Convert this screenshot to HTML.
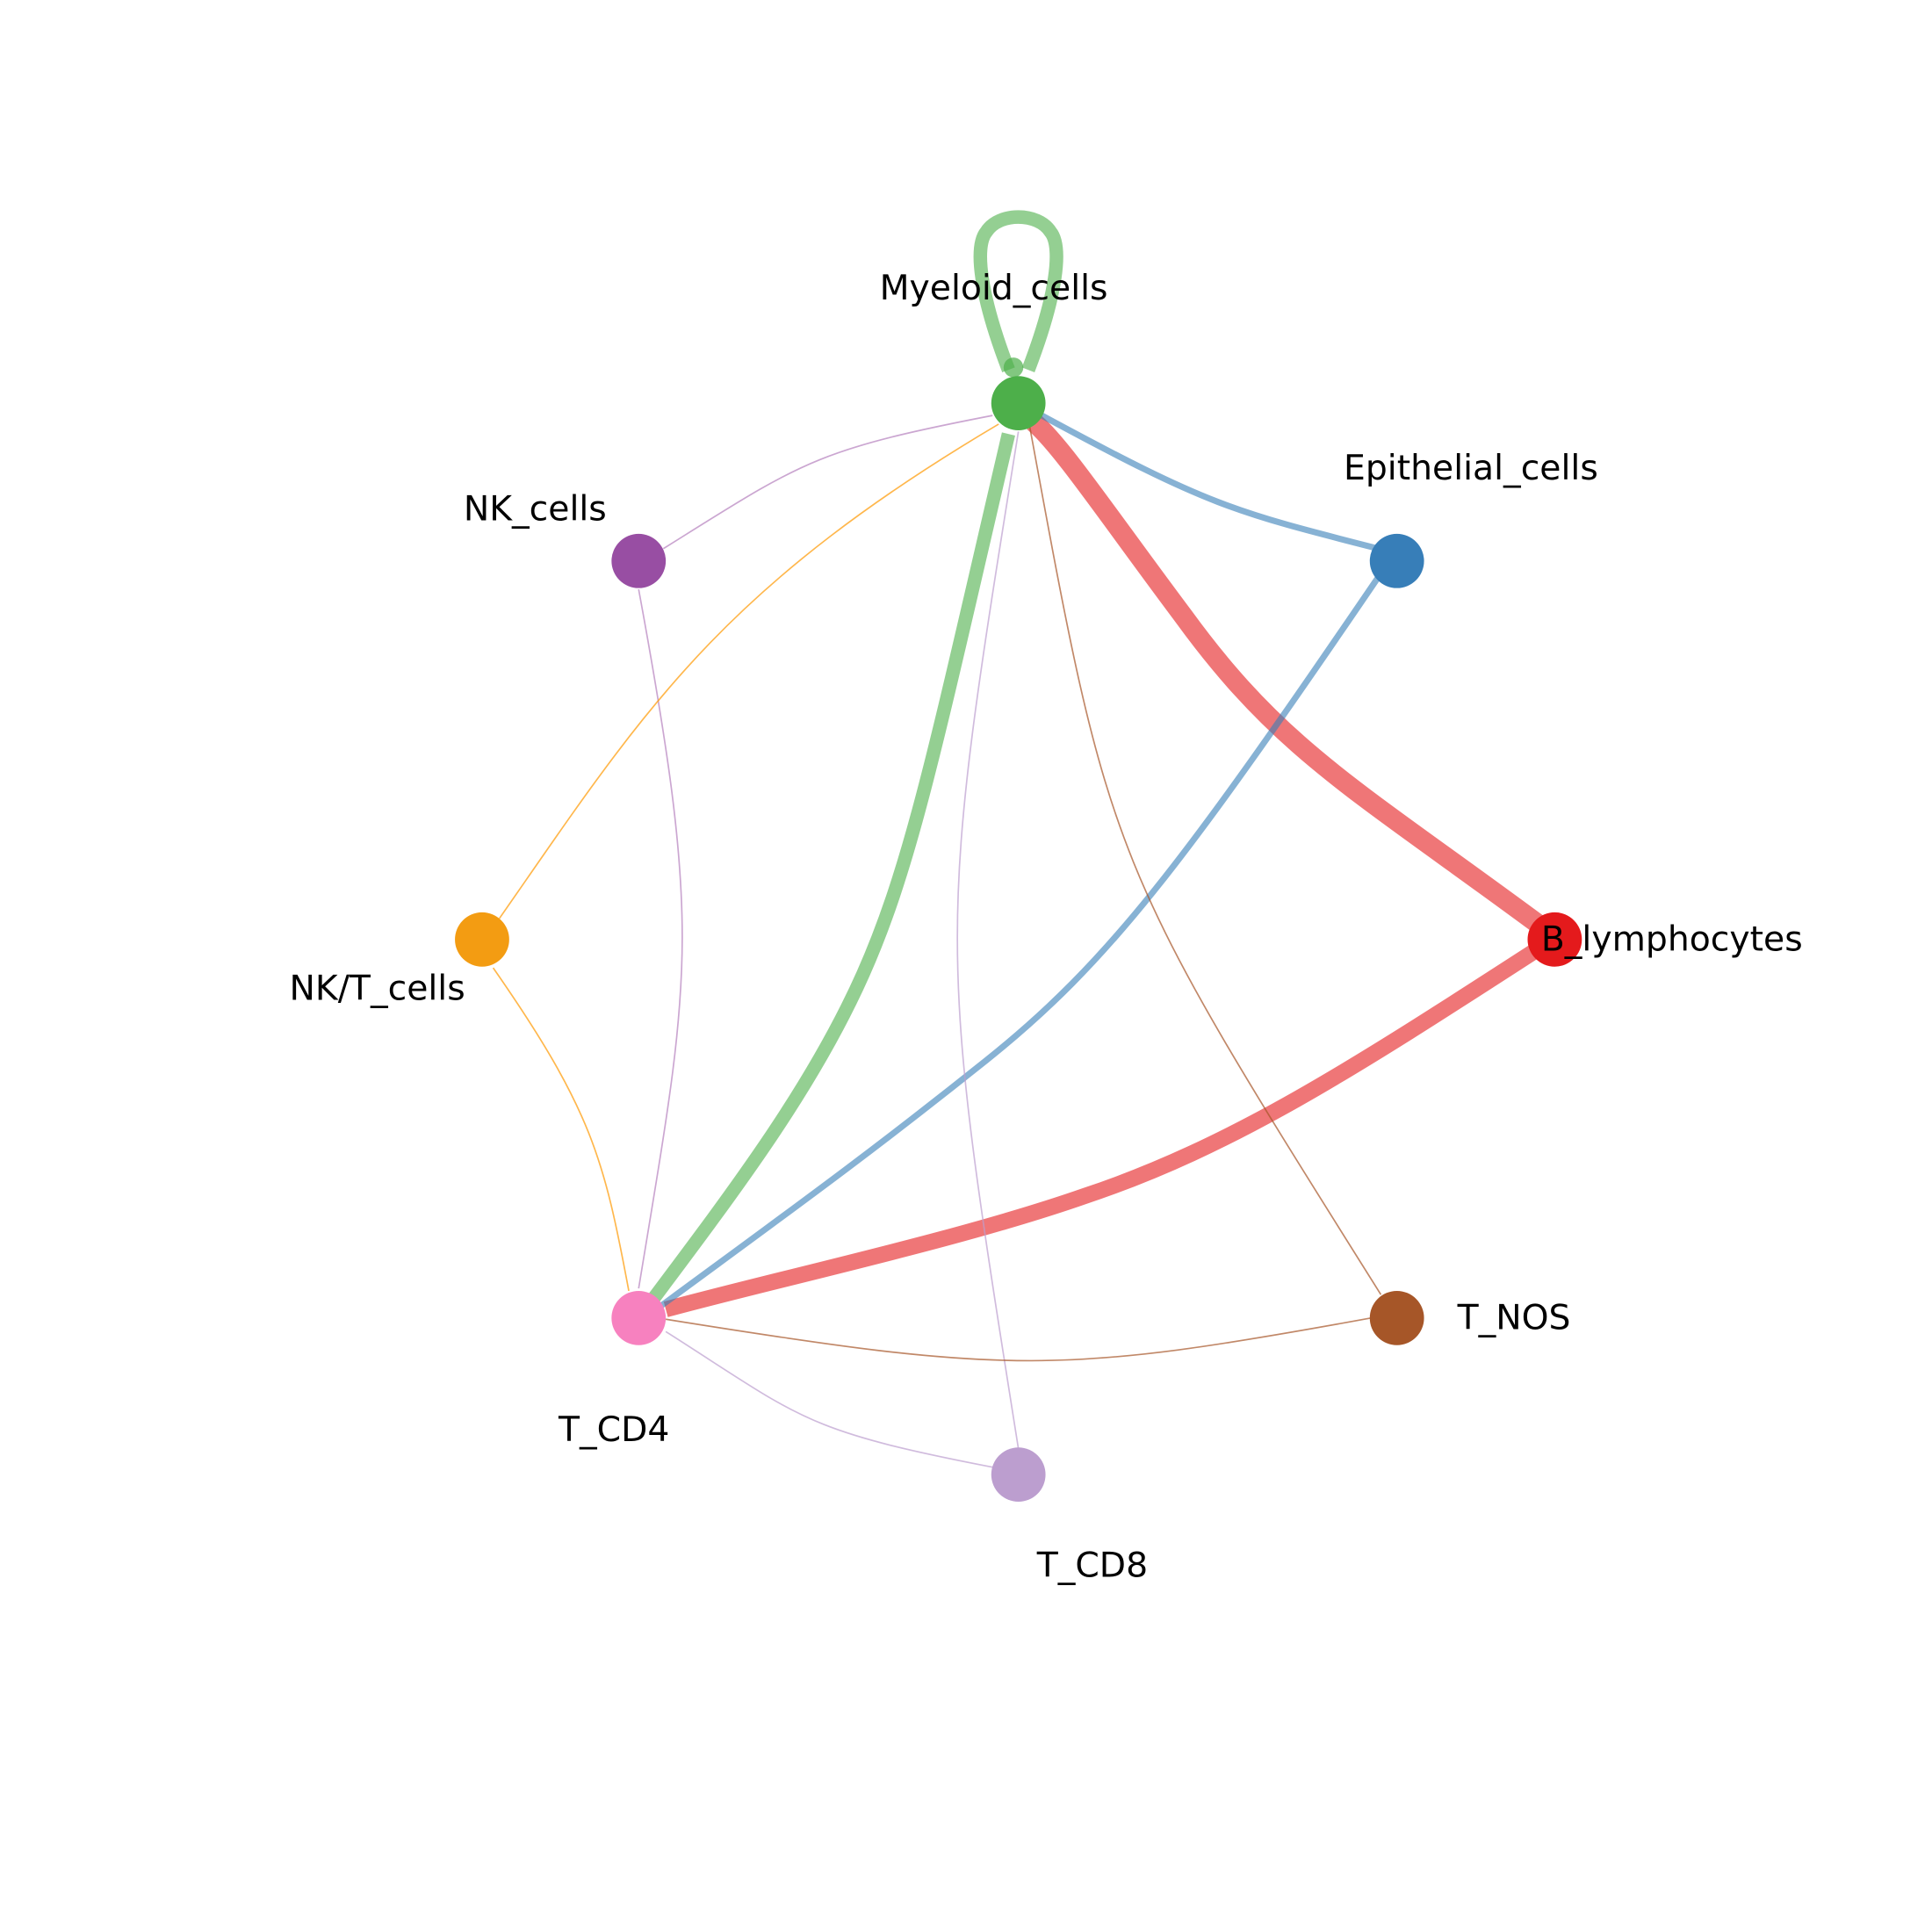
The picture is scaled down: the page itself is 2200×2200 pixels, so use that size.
<!DOCTYPE html>
<html><head><meta charset="utf-8"><style>
html,body{margin:0;padding:0;background:#fff;}
svg{display:block;}
text{font-family:"DejaVu Sans","Liberation Sans",sans-serif;font-size:28px;fill:#000;}
</style></head><body>
<svg width="2200" height="2200" viewBox="0 0 1567 1567" xmlns="http://www.w3.org/2000/svg">
<g fill="none">
<path d="M818,300 C795,240 790,200 800,188 C810,172 842,172 852,188 C862,200 857,240 834,300" stroke="#4daf4a" stroke-opacity="0.6" stroke-width="11"/>
<path d="M818,352 C760,600 740,700 700,790 C660,880 600,960 525,1060" stroke="#4daf4a" stroke-opacity="0.6" stroke-width="11"/>
<path d="M1255,755 C1100,640 1040,610 960,500 C900,420 860,360 838,342" stroke="#e41a1c" stroke-opacity="0.6" stroke-width="16"/>
<path d="M1250,768 C1100,865 1000,930 880,970 C780,1005 640,1035 540,1062" stroke="#e41a1c" stroke-opacity="0.6" stroke-width="13"/>
<path d="M1118,445 C1000,415 980,410 845,337" stroke="#377eb8" stroke-opacity="0.6" stroke-width="5"/>
<path d="M1120,465 C960,700 900,780 800,860 C700,940 630,990 535,1060" stroke="#377eb8" stroke-opacity="0.6" stroke-width="5"/>
<path d="M538,445 C650,375 660,365 805,337" stroke="#984ea3" stroke-opacity="0.5" stroke-width="1.2"/>
<path d="M518,478 C570,760 560,790 518,1045" stroke="#984ea3" stroke-opacity="0.5" stroke-width="1.2"/>
<path d="M405,745 C520,580 580,480 810,344" stroke="#ff9900" stroke-opacity="0.7" stroke-width="1.2"/>
<path d="M400,785 C480,900 490,940 510,1047" stroke="#ff9900" stroke-opacity="0.7" stroke-width="1.2"/>
<path d="M826,1175 C760,760 760,760 826,350" stroke="#bc9ecf" stroke-opacity="0.7" stroke-width="1.2"/>
<path d="M805,1190 C650,1160 650,1150 540,1080" stroke="#bc9ecf" stroke-opacity="0.7" stroke-width="1.2"/>
<path d="M1120,1050 C900,700 900,700 835,345" stroke="#a65628" stroke-opacity="0.7" stroke-width="1.2"/>
<path d="M1112,1069 C860,1115 820,1115 540,1070" stroke="#a65628" stroke-opacity="0.7" stroke-width="1.2"/>
</g>
<circle cx="822" cy="298" r="8" fill="#4daf4a" opacity="0.7"/>
<circle cx="826" cy="327" r="22" fill="#4daf4a"/>
<circle cx="1133" cy="455" r="22" fill="#377eb8"/>
<circle cx="1261" cy="762" r="22" fill="#e41a1c"/>
<circle cx="1133" cy="1069" r="22" fill="#a65628"/>
<circle cx="826" cy="1196" r="22" fill="#bc9ecf"/>
<circle cx="518" cy="1069" r="22" fill="#f781bf"/>
<circle cx="391" cy="762" r="22" fill="#f39c12"/>
<circle cx="518" cy="455" r="22" fill="#984ea3"/>
<text x="806" y="243" text-anchor="middle">Myeloid_cells</text>
<text x="1193" y="389" text-anchor="middle">Epithelial_cells</text>
<text x="1356" y="771" text-anchor="middle">B_lymphocytes</text>
<text x="1228" y="1078" text-anchor="middle">T_NOS</text>
<text x="886" y="1279" text-anchor="middle">T_CD8</text>
<text x="498" y="1169" text-anchor="middle">T_CD4</text>
<text x="306" y="811" text-anchor="middle">NK/T_cells</text>
<text x="434" y="422" text-anchor="middle">NK_cells</text>
</svg>
</body></html>
